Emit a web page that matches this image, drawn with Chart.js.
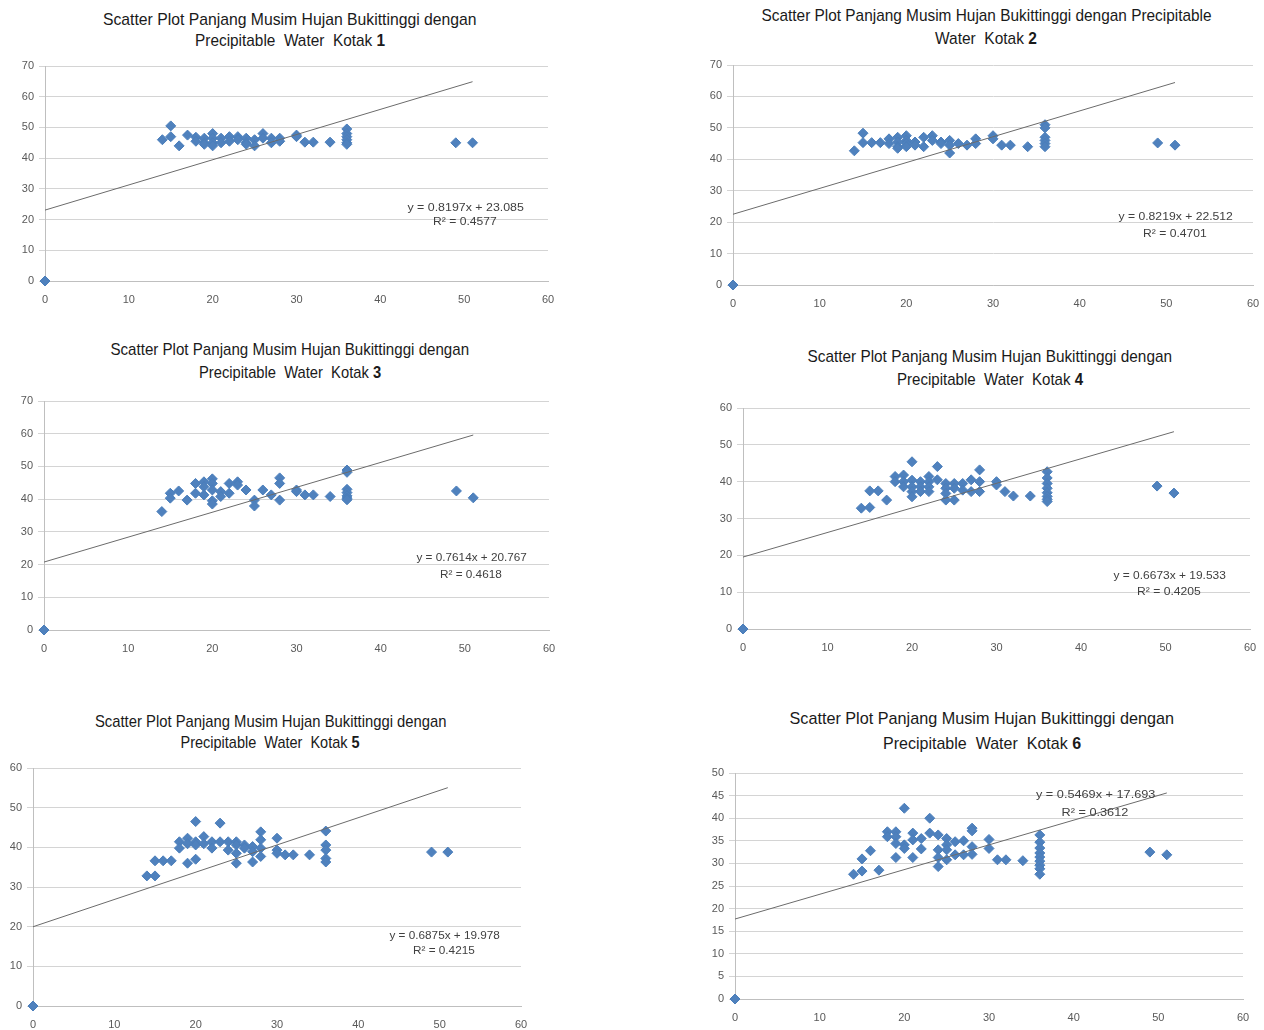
<!DOCTYPE html>
<html>
<head>
<meta charset="utf-8">
<script src="https://cdn.jsdelivr.net/npm/chart.js@4"></script>
<style>
  body { margin: 0; width: 1264px; height: 1030px; background: #fff; position: relative; overflow: hidden; }
  canvas { position: absolute; }
  .txt { position: absolute; white-space: pre; line-height: 1; transform-origin: 50% 50%; }
</style>
</head>
<body>
<script>
// panjang musim hujan (x) vs precipitable water (y), one pair of arrays per kotak
const kotak1X = [0,14,15,15,16,17,18,18,19,19,19,20,20,20,20,21,21,22,22,23,23,24,24,24,25,25,26,26,27,27,28,28,30,30,31,32,34,36,36,36,36,36,36,49,51];
const kotak1Y = [0,46,50.5,47,44,47.5,46.8,45.5,46.5,45,44.5,48,46.5,45,44,46.5,45,47,45.5,47,46,46.5,45,44.5,46,44,48,46.5,46.5,45,46.5,45.5,47.5,47,45.2,45.2,45.2,49.5,48,47,46,45,44.5,45,45];

const kotak2X = [0,14,15,15,16,17,18,18,19,19,19,19,20,20,20,20,21,21,22,22,23,23,24,24,25,25,25,26,27,28,28,30,30,31,32,34,36,36,36,36,36,36,49,51];
const kotak2Y = [0,42.7,48.3,45.3,45.3,45.3,46.5,45,47,45.5,44,43.5,47.5,46,45,44,45.5,44.5,47,44,47.5,46,45.5,45,46,44.5,42,45,44.5,46.5,45,47.5,46.5,44.5,44.5,44,51,50,47,46,45,44,45.2,44.5];

const kotak3X = [0,14,15,15,16,17,18,18,19,19,19,20,20,20,20,20,21,21,22,22,23,23,24,25,25,26,27,28,28,28,30,30,31,32,34,36,36,36,36,36,36,36,49,51];
const kotak3Y = [0,36.2,41.8,40.3,42.5,39.7,44.8,41.8,45.3,43.8,41.3,46.2,44.8,42.8,39.5,38.5,42.3,40.8,44.8,41.8,45.3,44.3,42.8,39.7,37.9,42.8,41.3,46.5,44.8,39.7,42.8,42.3,41.3,41.3,40.8,48.9,48.2,43,42,41,40.3,39.8,42.5,40.4];

const kotak4X = [0,14,15,15,16,17,18,18,19,19,19,20,20,20,20,20,21,21,21,22,22,22,22,23,23,24,24,24,24,25,25,25,26,26,27,27,28,28,28,30,30,31,32,34,36,36,36,36,36,36,36,36,49,51];
const kotak4Y = [0,32.8,37.5,33,37.5,35,41.4,40,41.8,40,38.6,45.4,40.4,38.6,37.3,35.9,40,38.6,37.3,41.4,40,38.6,37.3,44.1,40.5,39.5,38.2,36.8,35,39.5,38.2,35,39.5,37.7,40.5,37.3,43.2,40,37.3,40,39.1,37.3,36.1,36.1,42.7,41,39.5,38.2,37,36,35.2,34.6,38.8,36.9];

const kotak5X = [0,14,15,15,16,17,18,18,19,19,19,20,20,20,20,21,21,22,22,23,23,24,24,25,25,25,25,26,26,27,27,27,28,28,28,28,30,30,30,31,32,34,36,36,36,36,36,49,51];
const kotak5Y = [0,32.8,36.6,32.8,36.6,36.6,41.4,39.8,42.3,40.9,36,46.5,41.4,40.6,37,42.7,40.9,41.4,39.8,46.1,41.4,41.4,39.3,41.4,40.6,38.5,36,40.6,39.8,40.2,38.9,36.3,43.9,41.9,39.8,37.7,42.3,39.3,38.5,38.1,38.1,38.1,44.1,40.6,39.3,37.2,36.3,38.8,38.8];

const kotak6X = [0,14,15,15,16,17,18,18,19,19,19,19,20,20,20,21,21,21,22,22,23,23,24,24,24,24,25,25,25,25,26,26,27,27,28,28,28,28,30,30,31,32,34,36,36,36,36,36,36,36,36,36,49,51];
const kotak6Y = [0,27.6,28.3,31,32.8,28.5,37,35.9,37,35.9,34.4,31.3,42.2,34.1,33.3,36.7,35.2,31.3,35.5,33.2,40,36.7,36.3,33,31.3,29.3,35.5,34.1,33,30.8,34.8,31.9,35,31.9,37.8,37.2,33.7,32,35.3,33.3,30.8,30.8,30.6,36.3,34.7,33.4,32.3,31.4,30.5,29.6,28.8,27.6,32.5,31.9];

// linear trendlines as printed on the charts
const slopes = [0.8197, 0.8219, 0.7614, 0.6673, 0.6875, 0.5469];
const intercepts = [23.085, 22.512, 20.767, 19.533, 19.978, 17.693];
const rSquared = [0.4577, 0.4701, 0.4618, 0.4205, 0.4215, 0.3612];
const trendEndX = 51;

// axis ticks
const xTicksMax = 60, xTicksStep = 10;
const yTicksMax = [70, 70, 70, 60, 60, 50];
const yTicksStep = [10, 10, 10, 10, 10, 5];

const titleLine1 = [
  "Scatter Plot Panjang Musim Hujan Bukittinggi dengan",
  "Scatter Plot Panjang Musim Hujan Bukittinggi dengan Precipitable",
  "Scatter Plot Panjang Musim Hujan Bukittinggi dengan",
  "Scatter Plot Panjang Musim Hujan Bukittinggi dengan",
  "Scatter Plot Panjang Musim Hujan Bukittinggi dengan",
  "Scatter Plot Panjang Musim Hujan Bukittinggi dengan"
];
const titleLine2 = [
  "Precipitable  Water  Kotak ", "Water  Kotak ", "Precipitable  Water  Kotak ",
  "Precipitable  Water  Kotak ", "Precipitable  Water  Kotak ", "Precipitable  Water  Kotak "
];
const kotakNo = ["1", "2", "3", "4", "5", "6"];

const allX = [kotak1X, kotak2X, kotak3X, kotak4X, kotak5X, kotak6X];
const allY = [kotak1Y, kotak2Y, kotak3Y, kotak4Y, kotak5Y, kotak6Y];

// page layout: plot area [left, top, right, bottom], text centres [cx, cy, width]
const layout = [
  { plot: [45, 66, 548, 281],   t1: [290, 20, 374],  t2: [290, 41, 190],  e1: [465, 207, 116],  e2: [465, 221, 64] },
  { plot: [733, 65, 1253, 285], t1: [986, 16, 450],  t2: [986, 39, 102],  e1: [1175, 216, 114], e2: [1175, 233, 64] },
  { plot: [44, 401, 549, 630],  t1: [290, 350, 359], t2: [290, 373, 182], e1: [471, 557, 110],  e2: [471, 574, 62] },
  { plot: [743, 408, 1250, 629],t1: [990, 357, 365], t2: [990, 380, 186], e1: [1169, 575, 112], e2: [1169, 591, 64] },
  { plot: [33, 768, 521, 1006], t1: [271, 722, 352], t2: [270, 743, 179], e1: [444, 935, 110],  e2: [444, 950, 62] },
  { plot: [735, 773, 1243, 999],t1: [982, 719, 385], t2: [982, 744, 198], e1: [1095, 794, 119], e2: [1095, 812, 67] }
];

const PAD_L = 45, PAD_T = 12, PAD_R = 15, PAD_B = 30;
const tickFont = { family: "'Liberation Sans', Arial, sans-serif", size: 11 };
const tickColor = '#595959';

function placeText(html, box, font, color) {
  const d = document.createElement('div');
  d.className = 'txt';
  d.style.font = font;
  d.style.color = color;
  d.innerHTML = html;
  document.body.appendChild(d);
  const w = d.offsetWidth, h = d.offsetHeight;
  d.style.left = (box[0] - w / 2) + 'px';
  d.style.top = (box[1] - h / 2) + 'px';
  d.style.transform = 'scaleX(' + (box[2] / w) + ')';
}

for (let i = 0; i < 6; i++) {
  const L = layout[i];
  const [l, t, r, b] = L.plot;
  const cv = document.createElement('canvas');
  cv.width = r - l + PAD_L + PAD_R;
  cv.height = b - t + PAD_T + PAD_B;
  cv.style.left = (l - PAD_L) + 'px';
  cv.style.top = (t - PAD_T) + 'px';
  document.body.appendChild(cv);

  const points = allX[i].map((x, k) => ({ x: x, y: allY[i][k] }));
  const trend = [
    { x: 0, y: intercepts[i] },
    { x: trendEndX, y: slopes[i] * trendEndX + intercepts[i] }
  ];

  new Chart(cv.getContext('2d'), {
    type: 'scatter',
    data: {
      datasets: [
        {
          type: 'line',
          data: trend,
          borderColor: '#6b6b6b',
          borderWidth: 1,
          pointRadius: 0,
          fill: false
        },
        {
          data: points,
          pointStyle: 'rectRot',
          pointRadius: 5,
          backgroundColor: '#4F81BD',
          borderColor: '#4A7EBB',
          borderWidth: 1,
          clip: false
        }
      ]
    },
    options: {
      responsive: false,
      animation: false,
      devicePixelRatio: 1,
      layout: { padding: { left: 0, top: PAD_T, right: PAD_R, bottom: 0 } },
      plugins: { legend: { display: false }, tooltip: { enabled: false }, title: { display: false } },
      scales: {
        x: {
          type: 'linear', min: 0, max: xTicksMax,
          ticks: { stepSize: xTicksStep, color: tickColor, font: tickFont, padding: 4 },
          grid: { display: false },
          border: { display: true, color: '#bfbfbf' },
          afterFit: s => { s.height = PAD_B; }
        },
        y: {
          min: 0, max: yTicksMax[i],
          ticks: { stepSize: yTicksStep[i], color: tickColor, font: tickFont, padding: 5 },
          grid: { color: '#d4d4d4', tickLength: 6 },
          border: { display: true, color: '#bfbfbf' },
          afterFit: s => { s.width = PAD_L; }
        }
      }
    }
  });

  const titleFont = "17px 'Liberation Sans Narrow', 'Arial Narrow', 'Liberation Sans', Arial, sans-serif";
  placeText(titleLine1[i], L.t1, titleFont, '#1a1a1a');
  placeText(titleLine2[i] + '<b>' + kotakNo[i] + '</b>', L.t2, titleFont, '#1a1a1a');

  const eqFont = "11px 'Liberation Sans', Arial, sans-serif";
  placeText('y = ' + slopes[i].toFixed(4) + 'x + ' + intercepts[i].toFixed(3), L.e1, eqFont, '#404040');
  placeText('R² = ' + rSquared[i].toFixed(4), L.e2, eqFont, '#404040');
}
</script>
</body>
</html>
